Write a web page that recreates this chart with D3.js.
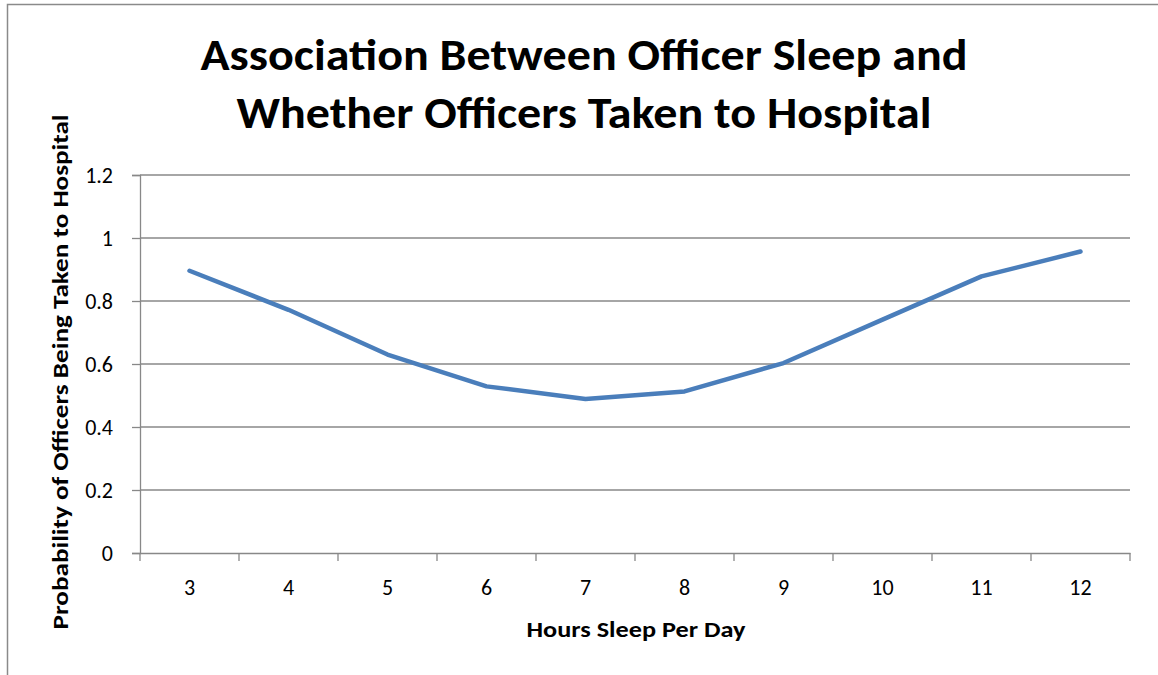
<!DOCTYPE html>
<html>
<head>
<meta charset="utf-8">
<script src="https://cdn.jsdelivr.net/npm/d3@7"></script>
<style>
  body { margin: 0; background: #fff; }
  svg { display: block; font-family: Carlito, Calibri, "Open Sans", sans-serif; }
</style>
</head>
<body>
<script>
// values
var hours = ["3", "4", "5", "6", "7", "8", "9", "10", "11", "12"];
var probability = [0.896, 0.772, 0.630, 0.529, 0.489, 0.513, 0.603, 0.741, 0.878, 0.957];
var yTicks = [0, 0.2, 0.4, 0.6, 0.8, 1, 1.2];
var titleLines = ["Association Between Officer Sleep and", "Whether Officers Taken to Hospital"];

var W = 1158, H = 675;
var margin = { left: 140, right: 28, top: 175, bottom: 122 };
var fontStack = "Carlito, Calibri, 'Open Sans', sans-serif";

var svg = d3.select("body").append("svg")
    .attr("width", W)
    .attr("height", H);

// chart frame (only top and left edges fall inside the picture)
svg.append("path")
    .attr("d", "M7.5," + H + " V4.5 H" + W)
    .attr("fill", "none")
    .attr("stroke", "#8a8a8a")
    .attr("stroke-width", 1.5);

var x = d3.scaleBand()
    .domain(hours)
    .range([margin.left, W - margin.right]);

var y = d3.scaleLinear()
    .domain([0, 1.2])
    .range([H - margin.bottom, margin.top]);

var g = svg.append("g");

// gridlines
g.selectAll(".grid").data(yTicks.filter(function(d){ return d > 0; }))
    .enter().append("line")
    .attr("class", "grid")
    .attr("x1", margin.left).attr("x2", W - margin.right)
    .attr("y1", function(d){ return y(d); }).attr("y2", function(d){ return y(d); })
    .attr("stroke", "#888")
    .attr("stroke-width", 1.3);

// y axis
var yAxis = g.append("g")
    .attr("transform", "translate(" + margin.left + ",0)")
    .call(d3.axisLeft(y).tickValues(yTicks).tickSize(8).tickPadding(19)
        .tickFormat(function(d){ return String(+d.toFixed(1)); }));

// x axis
var xAxis = g.append("g")
    .attr("transform", "translate(0," + (H - margin.bottom) + ")")
    .call(d3.axisBottom(x).tickSize(0).tickPadding(26));

// category boundary ticks
xAxis.selectAll(".bound").data(hours)
    .enter().append("line")
    .attr("class", "bound")
    .attr("x1", function(d){ return x(d) + x.bandwidth(); })
    .attr("x2", function(d){ return x(d) + x.bandwidth(); })
    .attr("y1", 0).attr("y2", 8)
    .attr("stroke", "#888").attr("stroke-width", 1.3);
xAxis.append("line")
    .attr("x1", margin.left).attr("x2", margin.left)
    .attr("y1", 0).attr("y2", 8)
    .attr("stroke", "#888").attr("stroke-width", 1.3);

[yAxis, xAxis].forEach(function(a){
    a.attr("font-size", 22).attr("font-family", fontStack);
    a.select(".domain").attr("stroke", "#888").attr("stroke-width", 1.3);
    a.selectAll(".tick line").attr("stroke", "#888").attr("stroke-width", 1.3);
    a.selectAll(".tick text").attr("fill", "#000");
});

// the series line
var line = d3.line()
    .x(function(d, i){ return x(hours[i]) + x.bandwidth() / 2; })
    .y(function(d){ return y(d); });

g.append("path")
    .datum(probability)
    .attr("d", line)
    .attr("fill", "none")
    .attr("stroke", "#4a7ebb")
    .attr("stroke-width", 4.5)
    .attr("stroke-linejoin", "round")
    .attr("stroke-linecap", "round");

// title
svg.selectAll(".title").data(titleLines)
    .enter().append("text")
    .attr("class", "title")
    .attr("x", 584)
    .attr("y", function(d, i){ return 70 + i * 58; })
    .attr("text-anchor", "middle")
    .attr("textLength", function(d, i){ return i == 0 ? 767 : 695; })
    .attr("lengthAdjust", "spacingAndGlyphs")
    .style("font-size", "44px")
    .style("font-weight", "bold")
    .text(function(d){ return d; });

// axis titles
svg.append("text")
    .attr("x", 636)
    .attr("y", 637)
    .attr("text-anchor", "middle")
    .attr("textLength", 219)
    .attr("lengthAdjust", "spacingAndGlyphs")
    .style("font-size", "22px")
    .style("font-weight", "bold")
    .text("Hours Sleep Per Day");

svg.append("text")
    .attr("transform", "translate(68,372) rotate(-90)")
    .attr("text-anchor", "middle")
    .attr("textLength", 515)
    .attr("lengthAdjust", "spacingAndGlyphs")
    .style("font-size", "22px")
    .style("font-weight", "bold")
    .text("Probability of Officers Being Taken to Hospital");
</script>
</body>
</html>
